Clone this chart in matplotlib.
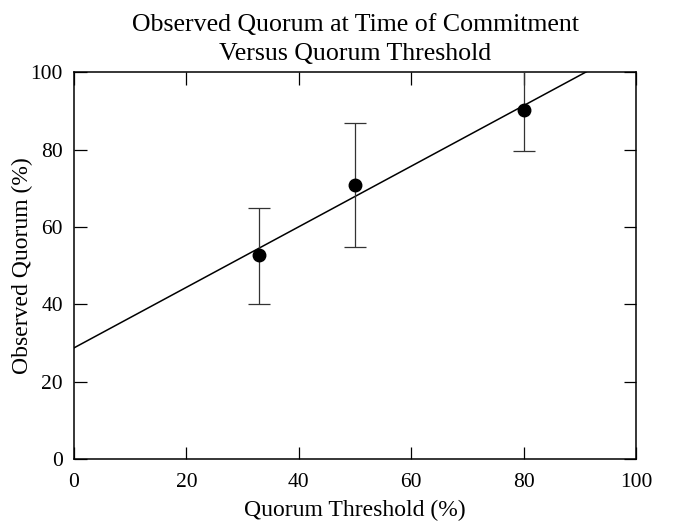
import numpy as np
import matplotlib
matplotlib.use("Agg")
import matplotlib.pyplot as plt

plt.rcParams['font.family'] = ['Liberation Serif', 'DejaVu Serif']

threshold = [33, 50, 80]
observed = [52.7, 70.8, 90.3]
err_low = [40.0, 54.8, 79.6]
err_high = [65.0, 86.8, 103.0]

title = "Observed Quorum at Time of Commitment\nVersus Quorum Threshold"
xlabel = "Quorum Threshold (%)"
ylabel = "Observed Quorum (%)"
ticks = [0, 20, 40, 60, 80, 100]

fig = plt.figure(figsize=(6.73, 5.27), dpi=100)
ax = fig.add_axes([0.110, 0.129, 0.835, 0.734])

x = np.array(threshold, dtype=float)
y = np.array(observed)
yerr = np.array([y - np.array(err_low), np.array(err_high) - y])

slope, intercept = np.polyfit(x, y, 1)
xl = np.array([0, 100])
ax.plot(xl, intercept + slope * xl, color='black', lw=1.1, zorder=2)

ax.errorbar(x, y, yerr=yerr, fmt='none', ecolor='#333333', elinewidth=0.9,
            capsize=8, capthick=0.9, zorder=3)
ax.plot(x, y, 'o', color='black', markersize=9, zorder=4)

ax.set_xlim(0, 100)
ax.set_ylim(0, 100)
ax.set_xticks(ticks)
ax.set_yticks(ticks)
ax.tick_params(direction='in', length=9, width=0.9, top=True, right=True,
               labelsize=15.5)
ax.tick_params(axis='x', pad=10)
ax.tick_params(axis='y', pad=8)
for s in ax.spines.values():
    s.set_linewidth(1.1)

ax.set_xlabel(xlabel, fontsize=17, labelpad=6)
ax.set_ylabel(ylabel, fontsize=17, labelpad=-2)
ax.set_title(title, fontsize=18.6, linespacing=1.4, pad=9)

fig.savefig("out.png", dpi=100)
